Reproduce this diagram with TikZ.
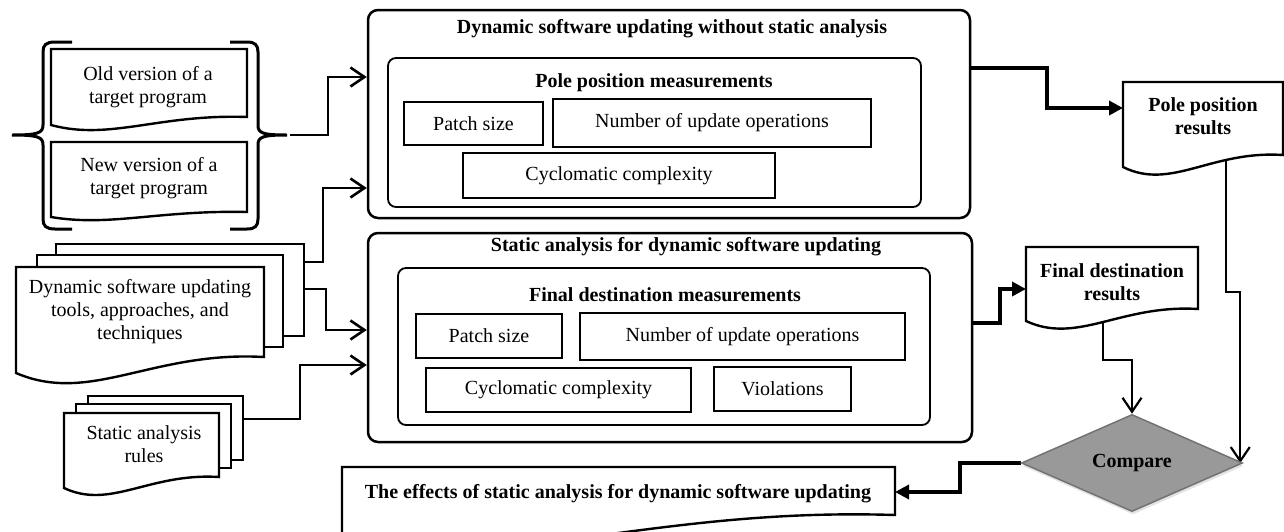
\documentclass[tikz,border=0pt]{standalone}
\usepackage{fontspec}
\setmainfont{Liberation Serif}
\usetikzlibrary{arrows.meta,shapes.geometric,shadows,calc}
\pgfdeclarelayer{bg}
\pgfsetlayers{bg,main}
% #1 name, #2 L, #3 R, #4 T, #5 yL (bottom left), #6 yR (bottom right)
\newcommand{\mydoc}[6]{%
  \node[draw=none, minimum width={(#3-#2)*1pt}, minimum height={(#6-#4)*1pt}, outer sep=0pt] (#1) at ({(#2+#3)/2},{(#4+#6)/2}) {};
  \path[docline] (#2,#4) -- (#3,#4) -- (#3,#6)
     .. controls ({#2+0.55*(#3-#2)},{#6-0.4*(#5-#6)}) and ({#2+0.3*(#3-#2)},{#5+2*(#5-#6)}) .. (#2,#5) -- cycle;}
\begin{document}
\begin{tikzpicture}[x=1pt,y=-1pt,
  every node/.style={font=\fontsize{20}{23}\selectfont, align=center, inner sep=0pt},
  btext/.style={font=\fontsize{20}{23}\selectfont\bfseries},
  outerbox/.style={draw, line width=2.5pt, rounded corners=10pt},
  innerbox/.style={draw, line width=1.8pt, rounded corners=8pt},
  mbox/.style={draw, line width=2.2pt},
  stackbox/.style={draw, fill=white, line width=2.2pt},
  docline/.style={draw, fill=white, line width=2.4pt, line join=miter},
  brace/.style={line width=3pt},
  inarr/.style={line width=2.6pt, -{Straight Barb[length=14pt,width=19pt]}},
  cmparr/.style={line width=2.2pt, -{Straight Barb[length=14pt,width=19pt]}},
  thkarr/.style={line width=4pt, -{Triangle[length=14pt,width=14pt]}},
]
\useasboundingbox (0,0) rectangle (1284,531);

% ---- left braces with version documents ----
\draw[brace] (72,42) -- (55,42) .. controls (46,42) and (43,45) .. (43,52) -- (43,125)
   .. controls (43,133) and (38,135) .. (12,135) .. controls (38,135) and (43,137) .. (43,145)
   -- (43,219) .. controls (43,226) and (46,229) .. (55,229) -- (72,229);
\draw[brace] (230,42) -- (247,42) .. controls (255,42) and (258,45) .. (258,52) -- (258,125)
   .. controls (258,133) and (262,135) .. (287,135) .. controls (262,135) and (258,137) .. (258,145)
   -- (258,219) .. controls (258,226) and (255,229) .. (247,229) -- (230,229);
\coordinate (brR) at (290,135);

\mydoc{oldS}{51}{247}{49}{125}{117}
\node (oldT) at (148,87) {Old version of a\\target program};
\mydoc{newS}{51}{247}{142}{217}{212}
\node (newT) at (149,178) {New version of a\\target program};

% ---- DSU tools stack ----
\node[stackbox, minimum width=248pt, minimum height=92pt] (dsuC) at (180,290) {};
\node[stackbox, minimum width=246pt, minimum height=92pt] (dsuB) at (160,301) {};
\mydoc{dsuS}{16}{264}{267}{373}{357}
\node (dsuT) at (140,312) {Dynamic software updating\\tools, approaches, and\\techniques};

% ---- static analysis rules stack ----
\node[stackbox, minimum width=155pt, minimum height=64pt] (srC) at (165.5,428) {};
\node[stackbox, minimum width=155pt, minimum height=64pt] (srB) at (153.5,436) {};
\mydoc{srS}{64}{219}{413}{488}{477}
\node (srT) at (144,444.5) {Static analysis\\rules};

% ---- upper process ----
\node[outerbox, minimum width=602pt, minimum height=208pt] (box1) at (669,114) {};
\node[btext] (t1) at (672,29) {Dynamic software updating without static analysis};
\node[innerbox, minimum width=533pt, minimum height=149pt] (in1) at (654.5,132.5) {};
\node[btext] (m1) at (654,83) {Pole position measurements};
\node[mbox, minimum width=139pt, minimum height=43pt] (ps1) at (473.5,123.5) {Patch size};
\node[mbox, minimum width=318pt, minimum height=48pt] (nu1) at (712,123) {Number of update operations};
\node[mbox, minimum width=312pt, minimum height=45pt] (cc1) at (619,175.5) {Cyclomatic complexity};

% ---- lower process ----
\node[outerbox, minimum width=604pt, minimum height=209pt] (box2) at (670,337.5) {};
\node[btext] (t2) at (686,247) {Static analysis for dynamic software updating};
\node[innerbox, minimum width=532pt, minimum height=157pt] (in2) at (664,346.5) {};
\node[btext] (m2) at (665,295) {Final destination measurements};
\node[mbox, minimum width=146pt, minimum height=44pt] (ps2) at (489,336) {Patch size};
\node[mbox, minimum width=325pt, minimum height=47pt] (nu2) at (742.5,336.5) {Number of update operations};
\node[mbox, minimum width=265pt, minimum height=44pt] (cc2) at (558.5,390) {Cyclomatic complexity};
\node[mbox, minimum width=137pt, minimum height=44pt] (vi2) at (782.5,389) {Violations};

% ---- results ----
\mydoc{poleS}{1123}{1283}{82}{167}{155}
\node[btext] (poleT) at (1203,116.5) {Pole position\\results};
\mydoc{fdS}{1026}{1198}{247}{321}{309}
\node[btext] (fdT) at (1112,282.5) {Final destination\\results};

\node[diamond, draw=black!55, line width=1.5pt, fill=black!40, minimum width=221pt, minimum height=64pt,
      inner sep=0pt, btext, drop shadow={shadow xshift=1pt, shadow yshift=-3pt, fill=black!22}]
      (cmp) at (1132,463) {Compare};

\mydoc{effS}{342}{895}{467}{535}{515}
\node[btext] (effT) at (618,494) {The effects of static analysis for dynamic software updating};

% ---- connectors ----
\begin{pgfonlayer}{bg}
\draw[inarr] (brR) -- (328,135) |- (box1.west |- 0,77);
\draw[inarr] (dsuC.east |- 0,262) -- (323,262) |- (box1.west |- 0,188);
\draw[inarr] (dsuC.east |- 0,289) -- (326,289) |- (box2.west |- 0,330);
\draw[inarr] (srC.east |- 0,419) -- (300,419) |- (box2.west |- 0,365);
\draw[thkarr] (box1.east |- 0,68) -- (1047,68) |- (poleS.west |- 0,108);
\draw[thkarr] (box2.east |- 0,323) -- (1000,323) |- (fdS.west |- 0,289);
\draw[cmparr] (fdS.center -| 1103,0) -- (1103,360) -| (cmp.north);
\draw[cmparr] (poleS.center -| 1226,0) -- (1226,292) -| ([xshift=-3pt]cmp.east);
\draw[thkarr] (cmp.west) -- (960,463) |- (effS.east |- 0,492);
\end{pgfonlayer}
\end{tikzpicture}
\end{document}
